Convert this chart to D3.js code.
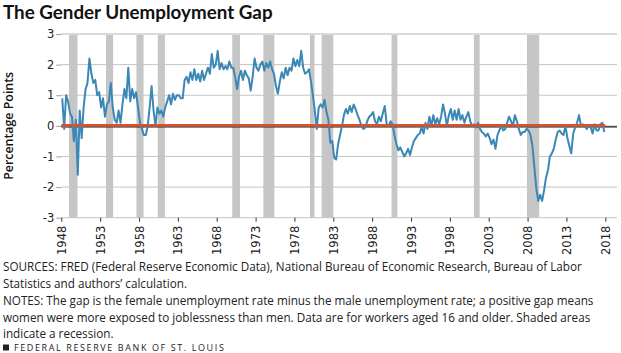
<!DOCTYPE html>
<html><head><meta charset="utf-8">
<script src="https://cdn.jsdelivr.net/npm/d3@7"></script>
<style>
body{margin:0;background:#fff;}
svg{display:block;font-family:"Open Sans",Lato,sans-serif;}
</style></head><body>
<svg id="chart" width="621" height="353"></svg>
<script>
// ---- data ----
const startYear = 1948;            // first quarter of the series
const gap = [                       // female minus male unemployment rate, quarterly, pp
  0.9,-0.1,1.0,0.8,   0.4,0.3,-0.5,0.2,   -1.6,0.5,-0.4,0.6,   1.2,1.4,2.2,1.7,
  1.4,1.5,1.0,1.1,    0.6,0.9,0.3,0.7,    0.8,1.4,0.6,0.2,     0.1,0.5,0.1,0.7,
  1.2,0.9,1.9,0.8,    1.2,0.9,1.1,0.6,    0.1,-0.1,-0.3,-0.3,  0.0,0.6,1.3,0.5,
  0.0,0.6,0.4,0.5,    0.3,0.6,0.8,1.0,    0.7,1.05,0.85,1.0,   1.0,0.9,0.9,1.5,
  1.6,1.4,1.75,1.5,   1.85,1.5,1.7,1.45,  1.8,1.5,1.7,1.9,     1.7,2.35,1.9,2.0,
  2.45,1.85,2.05,1.85, 1.95,1.85,2.1,1.9, 1.9,1.6,1.2,1.6,     1.8,1.5,1.8,1.65,
  1.55,1.15,1.6,2.2,  1.9,1.8,2.0,2.1,    1.8,2.05,1.9,2.1,    1.85,1.7,1.3,1.05,
  1.45,1.75,1.55,1.9, 1.65,1.9,1.8,2.2,   1.95,2.15,1.95,2.45, 1.9,1.7,1.75,1.85,
  1.45,1.0,0.5,-0.1,  0.6,0.7,0.6,0.85,   0.45,0.2,-0.55,-0.5, -1.05,-1.1,-0.6,-0.3,
  0.0,0.35,0.55,0.4,  0.65,0.45,0.7,0.55, 0.35,0.2,0.0,-0.1,   -0.05,0.15,0.3,0.35,
  0.45,0.15,0.05,0.3, 0.15,0.4,0.65,0.05, 0.0,0.15,0.05,-0.3,  -0.6,-0.8,-0.7,-0.85,
  -1.0,-0.9,-0.75,-0.95, -0.7,-0.5,-0.4,-0.3, -0.25,-0.05,-0.25,0.1, -0.1,0.3,0.0,0.35,
  0.05,0.25,0.05,0.3, 0.7,0.4,0.0,0.35,   0.55,0.2,0.5,0.2,    0.55,0.2,0.35,0.1,
  0.3,0.45,0.15,0.0,  0.05,-0.05,0.1,-0.1, -0.2,-0.25,-0.35,-0.25, -0.4,-0.6,-0.45,-0.75,
  -0.3,-0.15,0.0,-0.15, -0.1,0.1,0.3,0.15, 0.0,0.35,0.15,-0.1, -0.3,-0.2,-0.2,-0.1,
  -0.15,-0.3,-0.65,-1.35, -2.05,-2.45,-2.25,-2.45, -2.1,-1.7,-1.45,-1.0, -0.9,-0.75,-0.45,-0.2,
  -0.15,-0.25,-0.3,0.0, -0.4,-0.65,-0.9,-0.25, -0.05,0.1,0.35,0.0, 0.05,0.0,-0.1,0.02,
  -0.05,-0.25,0.05,-0.15, -0.15,0.05,0.1,-0.2
];
const recessionStart = ["1949-01","1953-10","1957-09","1960-06","1970-01","1974-01","1980-01","1981-07","1990-07","2001-02","2007-12"];
const recessionEnd   = ["1950-02","1954-09","1958-08","1961-05","1971-01","1975-06","1980-08","1983-01","1991-04","2001-11","2009-07"];
const xTickYears = [1948,1953,1958,1963,1968,1973,1978,1983,1988,1993,1998,2003,2008,2013,2018];
const yTicks = [-3,-2,-1,0,1,2,3];
const titleText = "The Gender Unemployment Gap";
const yTitleText = "Percentage Points";
const noteLines = [
  "SOURCES: FRED (Federal Reserve Economic Data), National Bureau of Economic Research, Bureau of Labor",
  "Statistics and authors\u2019 calculation.",
  "NOTES: The gap is the female unemployment rate minus the male unemployment rate; a positive gap means",
  "women were more exposed to joblessness than men. Data are for workers aged 16 and older. Shaded areas",
  "indicate a recession."
];
const footerText = "FEDERAL RESERVE BANK OF ST. LOUIS";

// ---- layout ----
const plotLeft = 61.3, plotRight = 617, plotTop = 34, plotBottom = 217.7;
const tickFont = "'DejaVu Sans',sans-serif";
const svg = d3.select("#chart");
const parseMonth = d3.timeParse("%Y-%m");

const x = d3.scaleTime()
  .domain([new Date(1948,0,1), new Date(2018,0,1)])
  .range([61.3, 605.3]);
const y = d3.scaleLinear().domain([-3,3]).range([plotBottom, plotTop]);

const series = gap.map((v,i) => ({
  date: new Date(startYear + Math.floor(i/4), (i%4)*3 + 1, 15),
  v
}));

// title
svg.append("text").attr("x",3).attr("y",18.5)
  .attr("font-family","Lato,sans-serif")
  .attr("font-size",18.8).attr("font-weight",700).attr("fill","#111")
  .text(titleText);

// recession bands
svg.append("g").selectAll("rect").data(recessionStart.map((s,i)=>[parseMonth(s), parseMonth(recessionEnd[i])]))
  .join("rect")
  .attr("x", d => x(d[0])).attr("width", d => x(d[1]) - x(d[0]))
  .attr("y", plotTop).attr("height", plotBottom - plotTop)
  .attr("fill","#c6c6c6");

// gridlines
svg.append("g").selectAll("line").data(yTicks).join("line")
  .attr("x1", plotLeft).attr("x2", plotRight)
  .attr("y1", d => y(d)).attr("y2", d => y(d))
  .attr("stroke", d => d === 3 ? "#dadada" : "#c4c4c4")
  .attr("stroke-width", d => d === 3 ? 2 : 1);

// y axis
const yAxis = svg.append("g").attr("transform",`translate(${plotLeft},0)`)
  .call(d3.axisLeft(y).tickValues(yTicks).tickSize(5).tickPadding(2).tickFormat(d => String(d)));
yAxis.select(".domain").remove();
yAxis.selectAll(".tick line").attr("stroke","#9a9a9a");
yAxis.selectAll(".tick text").attr("font-size",11.5).attr("fill","#222").attr("font-family",tickFont);

// x axis
const xAxis = svg.append("g").attr("transform",`translate(0,${plotBottom})`)
  .call(d3.axisBottom(x).tickValues(xTickYears.map(yv => new Date(yv,0,1))).tickSize(4).tickFormat(d3.timeFormat("%Y")));
xAxis.select(".domain").remove();
xAxis.selectAll(".tick line").attr("stroke","#333");
xAxis.selectAll(".tick text")
  .attr("font-size",11.5).attr("fill","#222").attr("font-family",tickFont)
  .attr("transform","rotate(-90)")
  .attr("text-anchor","end")
  .attr("x",-8).attr("y",0).attr("dy","0.35em");

// y title
svg.append("text")
  .attr("transform",`translate(13,${(plotTop+plotBottom)/2}) rotate(-90)`)
  .attr("text-anchor","middle")
  .attr("font-size",12.4).attr("font-weight",600).attr("fill","#111")
  .text(yTitleText);

// zero axis (black)
svg.append("line").attr("x1",plotLeft).attr("x2",plotRight)
  .attr("y1",y(0)+1).attr("y2",y(0)+1).attr("stroke","#1a1a1a").attr("stroke-width",1.2);

// data line
svg.append("path").datum(series)
  .attr("fill","none").attr("stroke","#3b87b6").attr("stroke-width",2)
  .attr("stroke-linejoin","round")
  .attr("d", d3.line().x(d => x(d.date)).y(d => y(d.v)));

// zero reference (red)
svg.append("line").attr("x1",x(new Date(1948,0,1))).attr("x2",x(new Date(2018,0,1)))
  .attr("y1",y(0)-0.5).attr("y2",y(0)-0.5).attr("stroke","#d6532e").attr("stroke-width",2.6);

// notes
const baselines = [271, 288, 305, 322, 338];
svg.append("g").selectAll("text").data(noteLines).join("text")
  .attr("x",3).attr("y",(d,i)=>baselines[i])
  .attr("font-size",11.7).attr("fill","#222")
  .text(d=>d);

// footer
svg.append("rect").attr("x",3).attr("y",344.5).attr("width",6).attr("height",6).attr("fill","#222");
svg.append("text").attr("x",14).attr("y",350.5)
  .attr("font-size",9).attr("letter-spacing",1.6).attr("fill","#222")
  .text(footerText);
</script>
</body></html>
